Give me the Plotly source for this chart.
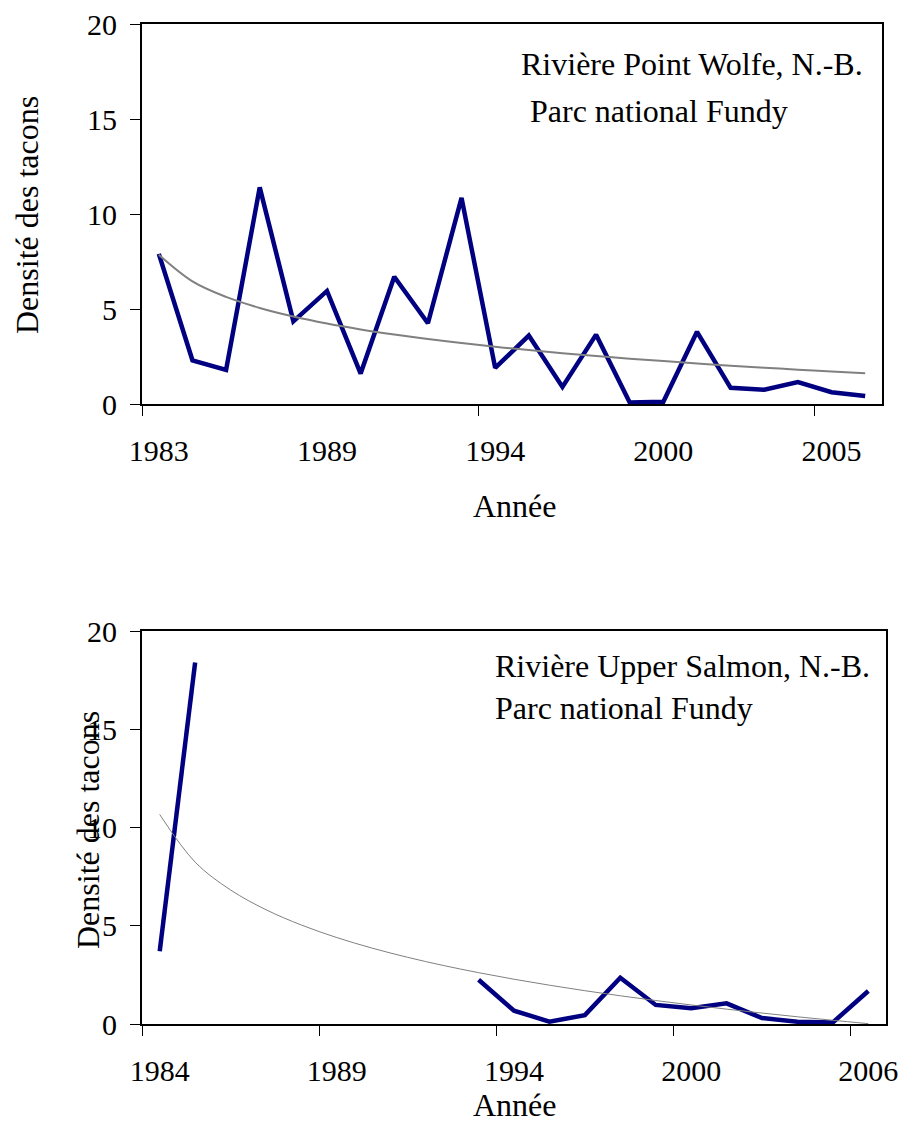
import numpy as np
import plotly.graph_objects as go

# ---------------- data ----------------
# Rivière Point Wolfe (top)
years_pw = ["1983", "1984", "1985", "1986", "1987", "1989", "1990", "1991", "1992",
            "1993", "1994", "1995", "1996", "1997", "1998", "2000", "2001", "2002",
            "2003", "2004", "2005", "2006"]
density_pw = [7.9, 2.3, 1.8, 11.4, 4.35, 5.95, 1.6, 6.7, 4.25, 10.85, 1.9, 3.6,
              0.9, 3.65, 0.08, 0.12, 3.8, 0.85, 0.75, 1.15, 0.62, 0.42]
labels_pw = ["1983", "1989", "1994", "2000", "2005"]
boundary_every_pw = 10

# Rivière Upper Salmon (bottom)
years_us = ["1984", "1985", "1986", "1987", "1988", "1989", "1990", "1991", "1992",
            "1993", "1994", "1995", "1996", "1997", "1998", "2000", "2001", "2002",
            "2004", "2005", "2006"]
density_us = [3.7, 18.4, None, None, None, None, None, None, None, 2.25, 0.68, 0.12,
              0.45, 2.35, 0.97, 0.8, 1.05, 0.3, 0.12, 0.08, 1.68]
labels_us = ["1984", "1989", "1994", "2000", "2006"]
boundary_every_us = 5

y_ticks = [0, 5, 10, 15, 20]

W, H = 903, 1126
FONT = "Liberation Serif"
NAVY = "#000080"
GREY = "#808080"


def log_trend(values):
    x = np.arange(1, len(values) + 1, dtype=float)
    y = np.array([np.nan if v is None else v for v in values], dtype=float)
    ok = ~np.isnan(y)
    b, a = np.polyfit(np.log(x[ok]), y[ok], 1)
    return a + b * np.log(x)


fig = go.Figure()

# top chart
idx_pw = list(range(len(years_pw)))
fig.add_trace(go.Scatter(x=idx_pw, y=density_pw, mode="lines",
                         line=dict(color=NAVY, width=4.5), xaxis="x", yaxis="y",
                         showlegend=False, hoverinfo="skip"))
fig.add_trace(go.Scatter(x=idx_pw, y=log_trend(density_pw), mode="lines",
                         line=dict(color=GREY, width=2, shape="spline"),
                         xaxis="x", yaxis="y", showlegend=False, hoverinfo="skip"))

# bottom chart
idx_us = list(range(len(years_us)))
fig.add_trace(go.Scatter(x=idx_us, y=density_us, mode="lines", connectgaps=False,
                         line=dict(color=NAVY, width=4.5), xaxis="x2", yaxis="y2",
                         showlegend=False, hoverinfo="skip"))
fig.add_trace(go.Scatter(x=idx_us, y=log_trend(density_us), mode="lines",
                         line=dict(color=GREY, width=1, shape="spline"),
                         xaxis="x2", yaxis="y2", showlegend=False, hoverinfo="skip"))


def xaxis_cfg(years, labels, every, domain, anchor):
    n = len(years)
    return dict(
        domain=domain, anchor=anchor, range=[-0.5, n - 0.5], automargin=False,
        tickmode="array", tickvals=[years.index(l) for l in labels], ticktext=labels,
        ticks="", showgrid=False, zeroline=False,
        showline=True, linecolor="black", linewidth=2, mirror=True,
        tickfont=dict(family=FONT, size=30, color="black"),
        ticklabelstandoff=19,
        minor=dict(tickmode="array",
                   tickvals=[i - 0.5 for i in range(0, n, every)],
                   ticks="outside", ticklen=10, tickwidth=1, tickcolor="black",
                   showgrid=False),
    )


def yaxis_cfg(domain, anchor):
    return dict(
        domain=domain, anchor=anchor, range=[0, 20], automargin=False,
        tickmode="array", tickvals=y_ticks, ticktext=[str(v) for v in y_ticks],
        ticks="outside", ticklen=10, tickwidth=1, tickcolor="black",
        showgrid=False, zeroline=False,
        showline=True, linecolor="black", linewidth=2, mirror=True,
        tickfont=dict(family=FONT, size=30, color="black"),
        ticklabelstandoff=7,
    )


fig.update_layout(
    width=W, height=H, margin=dict(l=0, r=0, t=0, b=0, autoexpand=False),
    paper_bgcolor="white", plot_bgcolor="white",
    xaxis=xaxis_cfg(years_pw, labels_pw, boundary_every_pw, [142 / W, 882 / W], "y"),
    yaxis=yaxis_cfg([1 - 404 / H, 1 - 24 / H], "x"),
    xaxis2=xaxis_cfg(years_us, labels_us, boundary_every_us, [142 / W, 886 / W], "y2"),
    yaxis2=yaxis_cfg([1 - 1024 / H, 1 - 631 / H], "x2"),
    font=dict(family=FONT, color="black"),
)

def txt(text, x, y, size=32, xanchor="left", angle=0):
    fig.add_annotation(text=text, x=x / W, y=1 - y / H, xref="paper", yref="paper",
                       xanchor=xanchor, yanchor="middle", showarrow=False,
                       textangle=angle, font=dict(family=FONT, size=size, color="black"))

txt("Rivière Point Wolfe, N.-B.", 519, 64)
txt("Parc national Fundy", 528, 111)
txt("Rivière Upper Salmon, N.-B.", 493, 666)
txt("Parc national Fundy", 493, 708)
txt("Densité des tacons", 27, 215, xanchor="center", angle=-90)
txt("Densité des tacons", 88, 830, xanchor="center", angle=-90)
txt("Année", 515, 506, xanchor="center")
txt("Année", 515, 1105, xanchor="center")

fig.write_html("out.html", config={"displayModeBar": False},
               post_script="document.body.style.margin='0';document.body.style.overflow='hidden';")
